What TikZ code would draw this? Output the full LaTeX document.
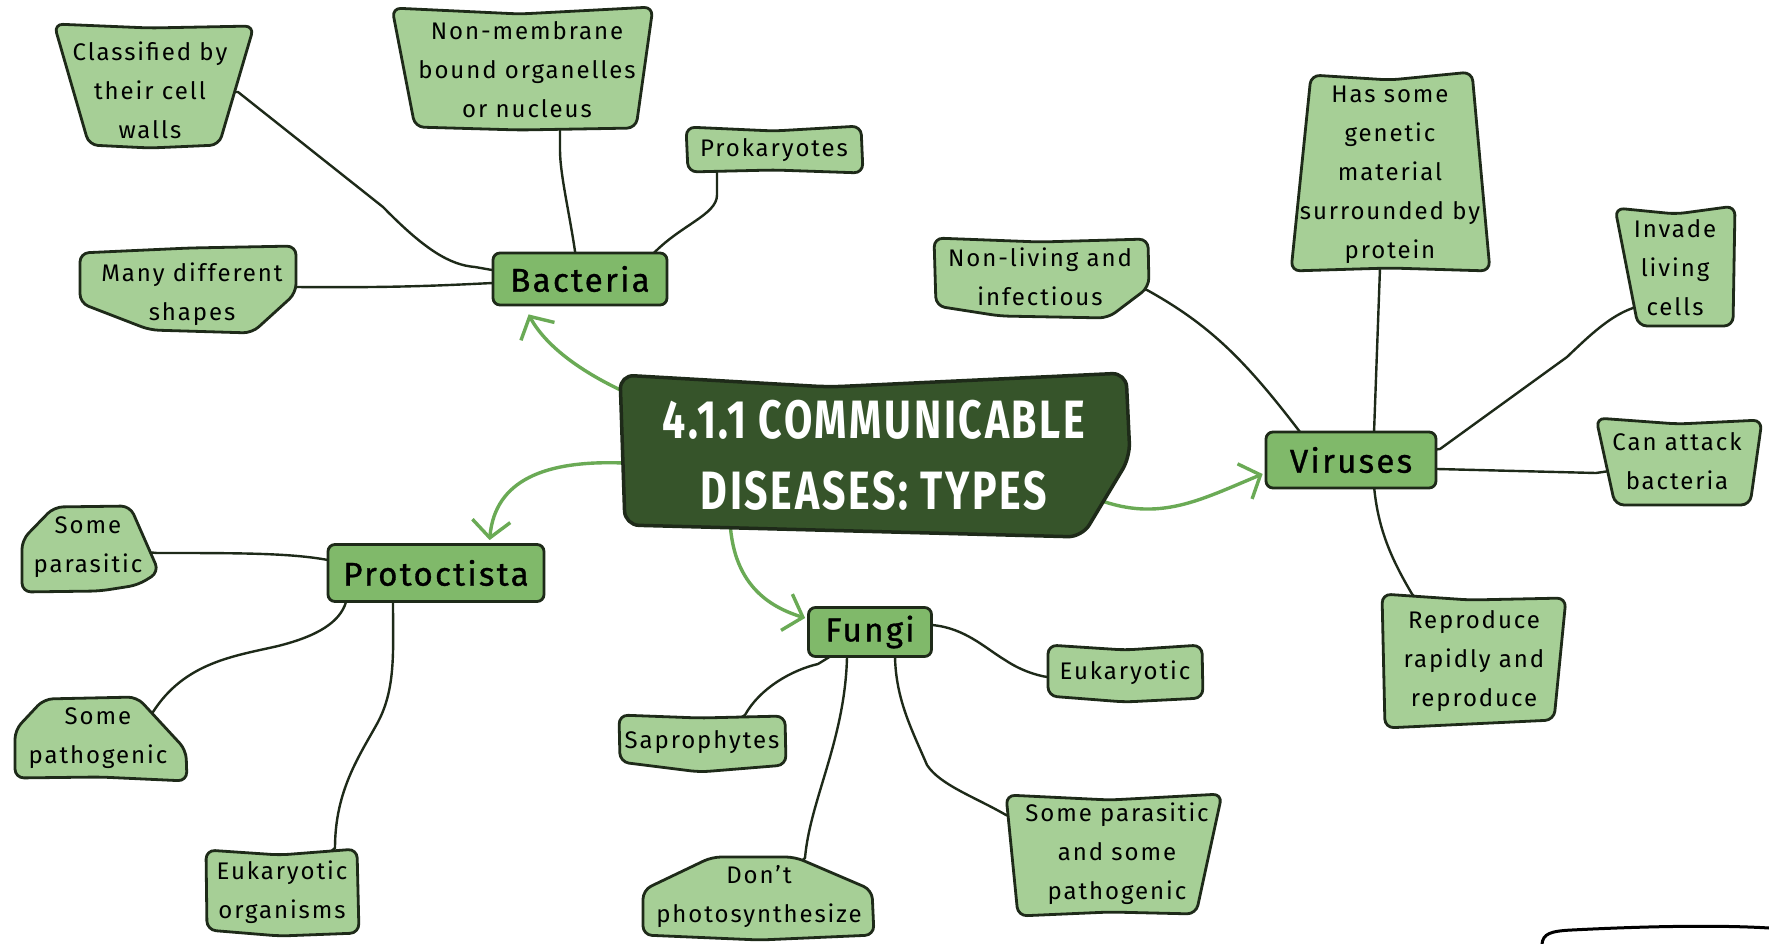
\documentclass[tikz,border=0pt]{standalone}
\usepackage{fontspec}
\setmainfont{Fira Sans}[LetterSpace=8]
\newfontfamily\titlefont{Fira Sans}[FakeStretch=0.76,LetterSpace=5]
\newfontfamily\hubfont{Fira Sans}[LetterSpace=7,FakeBold=1]
\usetikzlibrary{arrows.meta,calc}
\definecolor{leaffill}{HTML}{A6CF96}
\definecolor{hubfill}{HTML}{80B96A}
\definecolor{cenfill}{HTML}{36542A}
\definecolor{edgec}{HTML}{1E2A19}
\definecolor{arrowc}{HTML}{6AAA55}
\pgfdeclarelayer{back}
\pgfdeclarelayer{bg}
\pgfdeclarelayer{shp}
\pgfsetlayers{back,bg,shp,main}
\begin{document}
\begin{tikzpicture}[x=1pt,y=-1pt,
  leafshape/.style={fill=leaffill,draw=edgec,line width=2.8pt,rounded corners=9pt,line join=round},
  censhape/.style={fill=cenfill,draw=edgec,line width=3.5pt,rounded corners=14pt,line join=round},
  leaftext/.style={inner sep=0pt,align=center,font=\fontsize{24}{39}\selectfont,text=black},
  hub/.style={rectangle,rounded corners=7pt,fill=hubfill,draw=edgec,line width=2.8pt,font=\hubfont\fontsize{33}{40}\selectfont,inner sep=0pt},
  conn/.style={draw=edgec,line width=2.4pt,line cap=round,line join=round},
  garrow/.style={draw=arrowc,line width=3.4pt,line cap=round,line join=round,-{Straight Barb[length=17pt,width=38pt]}},
]
\useasboundingbox (0,0) rectangle (1769,944);
\begin{pgfonlayer}{back}
\fill[white] (0,0) rectangle (1769,944);
\end{pgfonlayer}

% ---- central title
\node[font=\titlefont\bfseries\fontsize{54}{71}\selectfont,text=white,align=center,minimum width=510pt,minimum height=166pt,inner sep=0pt] (cen) at (874,455) {4.1.1 COMMUNICABLE\\DISEASES: TYPES};

% ---- hubs
\node[hub,minimum width=174pt,minimum height=52pt] (bact) at (580,279) {Bacteria};
\node[hub,minimum width=170pt,minimum height=56pt] (vir) at (1351,460) {Viruses};
\node[hub,minimum width=216pt,minimum height=57pt] (prt) at (436,573) {Protoctista};
\node[hub,minimum width=123pt,minimum height=49pt] (fun) at (870,632) {Fungi};

% ---- leaf texts
\node[leaftext] (cls) at (150,90) {Classified by\\their cell\\walls};
\node[leaftext] (nmb) at (527,70) {Non-membrane\\bound organelles\\or nucleus};
\node[leaftext] (pro) at (774,150) {Prokaryotes};
\node[leaftext] (mds) at (192,294) {Many different\\shapes};
\node[leaftext] (nl) at (1040,277) {Non-living and\\infectious};
\node[leaftext] (hsg) at (1390,175) {Has some\\genetic\\material\\surrounded by\\protein};
\node[leaftext] (inv) at (1675,268) {Invade\\living\\cells};
\node[leaftext] (cab) at (1677,461) {Can attack\\bacteria};
\node[leaftext] (rep) at (1474,661) {Reproduce\\rapidly and\\reproduce};
\node[leaftext] (spa) at (88,547) {Some\\parasitic};
\node[leaftext] (spg) at (98,738) {Some\\pathogenic};
\node[leaftext] (eko) at (282,892) {Eukaryotic\\organisms};
\node[leaftext] (sap) at (702,742) {Saprophytes};
\node[leaftext] (dnp) at (759,897) {Don't\\photosynthesize};
\node[leaftext] (euk) at (1125,673) {Eukaryotic};
\node[leaftext] (sps) at (1117,854) {Some parasitic\\and some\\pathogenic};

% ---- partial shape at bottom right
\draw[line width=3pt,line cap=round] (1542,944) .. controls (1543,934) and (1550,931) .. (1572,930) .. controls (1650,926) and (1720,925) .. (1769,928);

% ---- shapes
\begin{pgfonlayer}{shp}
\draw[censhape] (620,375) -- (829,387) -- (1126,373) -- (1130,457) -- (1082,537) -- (625,525) -- cycle;
\draw[leafshape] (54,24) -- (150,28) -- (254,26) -- (219,145) -- (150,148) -- (89,145) -- cycle;
\draw[leafshape] (392,8) -- (520,14) -- (653,7) -- (636,128) -- (520,130) -- (415,127) -- cycle;
\draw[leafshape] (686,127) -- (774,131) -- (861,126) -- (863,173) -- (774,170) -- (688,172) -- cycle;
\draw[leafshape] (80,253) -- (190,248) -- (296,246) -- (296,293) -- (252,333) -- (150,330) -- (80,303) -- cycle;
\draw[leafshape] (934,238) -- (1040,242) -- (1148,239) -- (1149,287) -- (1108,318) -- (1000,316) -- (936,306) -- cycle;
\draw[leafshape] (1311,75) -- (1390,80) -- (1472,72) -- (1490,271) -- (1390,268) -- (1291,271) -- cycle;
\draw[leafshape] (1615,208) -- (1676,214) -- (1735,206) -- (1733,326) -- (1638,326) -- cycle;
\draw[leafshape] (1596,418) -- (1678,424) -- (1762,420) -- (1750,505) -- (1615,505) -- cycle;
\draw[leafshape] (1382,594) -- (1470,600) -- (1566,598) -- (1554,720) -- (1385,728) -- cycle;
\draw[leafshape] (54,507) -- (130,506) -- (159,572) -- (138,585) -- (100,591) -- (22,592) -- (22,540) -- cycle;
\draw[leafshape] (44,699) -- (137,697) -- (186,750) -- (187,781) -- (100,777) -- (15,778) -- (15,730) -- cycle;
\draw[leafshape] (206,850) -- (280,855) -- (357,849) -- (359,933) -- (280,936) -- (207,930) -- cycle;
\draw[leafshape] (619,715) -- (700,718) -- (785,716) -- (786,765) -- (700,772) -- (620,762) -- cycle;
\draw[leafshape] (643,935) -- (643,890) -- (712,857) -- (795,857) -- (872,890) -- (874,935) -- (760,940) -- cycle;
\draw[leafshape] (1048,645) -- (1125,650) -- (1202,645) -- (1203,698) -- (1125,702) -- (1048,696) -- cycle;
\draw[leafshape] (1006,795) -- (1110,800) -- (1222,794) -- (1196,914) -- (1110,912) -- (1018,916) -- cycle;
\end{pgfonlayer}

% ---- connectors and arrows
\begin{pgfonlayer}{bg}
\draw[conn] (cls.center) -- (238,92) -- (383,207) .. controls (425,250) and (450,265) .. (475,267) -- (492,270) -- (bact.center);
\draw[conn] (nmb.center) -- (560,128) -- (560,150) .. controls (560,175) and (570,215) .. (576,258) -- (bact.center);
\draw[conn] (pro.center) -- (717,170) -- (717,195) .. controls (717,215) and (680,225) .. (652,255) -- (bact.center);
\draw[conn] (mds.center) -- (296,287) .. controls (400,288) and (450,285) .. (493,283) -- (bact.center);

\draw[conn] (nl.center) -- (1147,290) .. controls (1210,325) and (1245,360) .. (1300,432) -- (vir.center);
\draw[conn] (hsg.center) -- (1380,268) -- (1374,433) -- (vir.center);
\draw[conn] (inv.center) -- (1633,308) .. controls (1610,316) and (1590,335) .. (1567,357) -- (1440,449) -- (vir.center);
\draw[conn] (vir.center) -- (1437,469) -- (1596,473) -- (cab.center);
\draw[conn] (rep.center) -- (1412,594) .. controls (1392,560) and (1378,530) .. (1374,486) -- (vir.center);

\draw[conn] (spa.center) -- (157,553) .. controls (240,553) and (290,553) .. (328,560) -- (prt.center);
\draw[conn] (spg.center) -- (153,712) .. controls (185,662) and (235,656) .. (278,646) .. controls (318,636) and (340,622) .. (346,602) -- (prt.center);
\draw[conn] (eko.center) -- (335,848) .. controls (335,790) and (360,755) .. (378,722) .. controls (396,688) and (393,650) .. (393,602) -- (prt.center);

\draw[conn] (fun.center) -- (932,625) .. controls (965,628) and (985,648) .. (1005,660) .. controls (1020,670) and (1035,675) .. (1047,677) -- (euk.center);
\draw[conn] (sap.center) -- (745,715) .. controls (760,688) and (792,670) .. (818,664) -- (fun.center);
\draw[conn] (dnp.center) -- (805,858) .. controls (810,800) and (845,740) .. (847,657) -- (fun.center);
\draw[conn] (sps.center) -- (1006,815) .. controls (975,797) and (940,785) .. (927,765) .. controls (912,730) and (896,700) .. (895,657) -- (fun.center);

\draw[garrow] ($(cen.north west)+(10,22)$) .. controls (580,372) and (545,345) .. ($(bact.south west)+(37,8)$);
\draw[garrow] ($(cen.west)+(5,8)$) .. controls (545,460) and (495,480) .. ($(prt.north west)+(163,-3)$);
\draw[garrow] ($(cen.south west)+(111,-23)$) .. controls (731,585) and (770,607) .. ($(fun.west)+(-2,-14)$);
\draw[garrow] ($(cen.east)+(-30,45)$) .. controls (1160,522) and (1200,500) .. ($(vir.west)+(-2,14)$);
\end{pgfonlayer}
\end{tikzpicture}
\end{document}
